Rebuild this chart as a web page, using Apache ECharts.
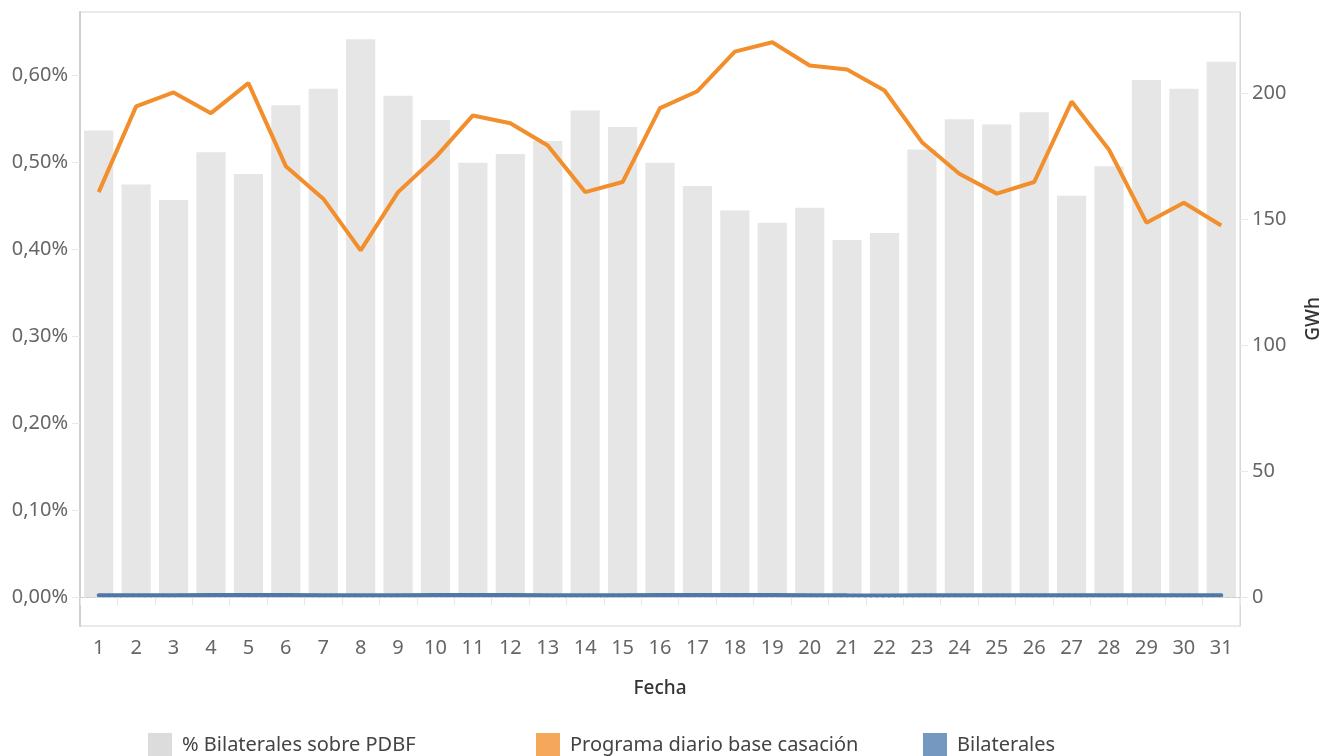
<!DOCTYPE html>
<html>
<head>
<meta charset="utf-8">
<script src="https://cdn.jsdelivr.net/npm/echarts@6/dist/echarts.min.js"></script>
<style>
html,body{margin:0;padding:0;background:#fff;}
#chart{width:1337px;height:756px;}
</style>
</head>
<body>
<div id="chart"></div>
<script>
const days = ['1','2','3','4','5','6','7','8','9','10','11','12','13','14','15','16','17','18','19','20','21','22','23','24','25','26','27','28','29','30','31'];
// % Bilaterales sobre PDBF (in percent)
const pctBilaterales = [0.537,0.475,0.457,0.512,0.487,0.566,0.585,0.642,0.577,0.549,0.500,0.510,0.525,0.560,0.541,0.500,0.473,0.445,0.431,0.448,0.411,0.419,0.515,0.550,0.544,0.558,0.462,0.496,0.595,0.585,0.616];
// Programa diario base casación (GWh)
const programa = [160.7,194.7,200.2,192.0,203.9,171.0,158.1,137.6,160.7,174.5,191.1,188.0,179.2,160.7,164.7,194.0,200.7,216.4,220.1,210.9,209.3,201.0,180.5,168.0,160.1,164.7,196.6,177.5,148.6,156.5,147.5];
// Bilaterales (GWh)
const bilaterales = [0.86,0.92,0.91,0.98,0.99,0.97,0.92,0.88,0.93,0.96,0.96,0.96,0.94,0.90,0.89,0.97,0.95,0.96,0.95,0.94,0.86,0.84,0.93,0.92,0.87,0.92,0.91,0.88,0.88,0.92,0.91];
const leftTicks = [0,0.1,0.2,0.3,0.4,0.5,0.6];
const rightTicks = [0,50,100,150,200];
const seriesNames = ['% Bilaterales sobre PDBF','Programa diario base casación','Bilaterales'];

const FONT = 'Noto Sans';
const LBL = 20;
const chart = echarts.init(document.getElementById('chart'), null, {renderer:'canvas'});
const legendText = {fontSize:LBL,color:'#444',fontFamily:FONT,padding:[0,0,0,5]};
const option = {
  animation:false,
  textStyle:{fontFamily:FONT},
  grid:{left:80,right:97,top:12,bottom:130,show:true,borderColor:'#d6d6d6',borderWidth:1,backgroundColor:'transparent'},
  legend:[
    {left:143,top:728,icon:'rect',itemWidth:24,itemHeight:24,selectedMode:false,textStyle:legendText,
     data:[{name:seriesNames[0],itemStyle:{color:'#dcdcdc'}}]},
    {left:531,top:728,icon:'rect',itemWidth:24,itemHeight:24,selectedMode:false,textStyle:legendText,
     data:[{name:seriesNames[1],itemStyle:{color:'#f5a75c'}}]},
    {left:918,top:728,icon:'rect',itemWidth:24,itemHeight:24,selectedMode:false,textStyle:legendText,
     data:[{name:seriesNames[2],itemStyle:{color:'#7598c0'}}]}
  ],
  xAxis:{
    type:'category',data:days,boundaryGap:true,
    name:'Fecha',nameLocation:'middle',nameGap:53,
    nameTextStyle:{fontSize:19,color:'#333',fontWeight:500,fontFamily:FONT},
    axisLine:{show:true,lineStyle:{color:'#d6d6d6',width:1}},
    axisTick:{show:true,length:8,lineStyle:{color:'#e6e6e6'}},
    axisLabel:{fontSize:LBL,color:'#666',margin:12,interval:0,fontFamily:FONT},
    splitLine:{show:false}
  },
  yAxis:[
    {type:'value',position:'left',min:-0.033,max:0.6733,
     axisLine:{show:true,lineStyle:{color:'#cfcfcf',width:2}},
     axisTick:{show:true,length:8,customValues:leftTicks,lineStyle:{color:'#e8e8e8'}},
     axisLabel:{fontSize:LBL,color:'#666',margin:12,fontFamily:FONT,customValues:leftTicks,
       formatter:v=>v.toFixed(2).replace('.',',')+'%'},
     splitLine:{show:false}},
    {type:'value',position:'right',min:-11.29,max:232.1,
     name:'GWh',nameLocation:'middle',nameGap:64,nameRotate:90,
     nameTextStyle:{fontSize:19,color:'#333',fontWeight:500,fontFamily:FONT},
     axisLine:{show:true,lineStyle:{color:'#d6d6d6',width:1}},
     axisTick:{show:true,length:8,customValues:rightTicks,lineStyle:{color:'#e8e8e8'}},
     axisLabel:{fontSize:LBL,color:'#666',margin:12,fontFamily:FONT,customValues:rightTicks,
       formatter:v=>String(v)},
     splitLine:{show:false}}
  ],
  series:[
    {name:seriesNames[0],type:'bar',yAxisIndex:0,data:pctBilaterales,barCategoryGap:'22%',
     itemStyle:{color:'#e6e6e6'},z:1,
     markLine:{silent:true,symbol:'none',label:{show:false},
       lineStyle:{type:'dashed',color:'#cfcfcf',width:1},data:[{yAxis:0}]}},
    {name:seriesNames[1],type:'line',yAxisIndex:1,data:programa,symbol:'none',
     lineStyle:{color:'#f28e2b',width:4},itemStyle:{color:'#f28e2b'},z:3},
    {name:seriesNames[2],type:'line',yAxisIndex:1,data:bilaterales,symbol:'none',
     lineStyle:{color:'#4e79a7',width:4,cap:'round'},itemStyle:{color:'#4e79a7'},z:4}
  ]
};
chart.setOption(option);
</script>
</body>
</html>
